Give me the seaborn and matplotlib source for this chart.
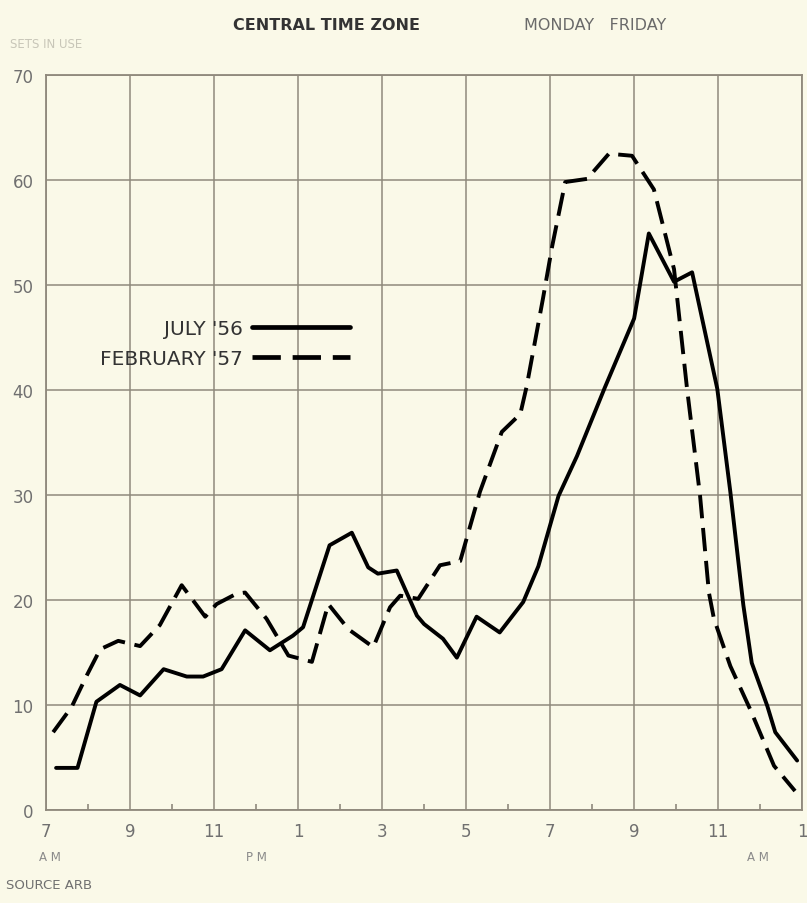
import numpy as np
import matplotlib as mpl
mpl.use('Agg')

import matplotlib.pyplot as plt
import seaborn as sns
import pandas as pd

# hours after midnight (7 = 7 AM, 25 = 1 AM next day), per cent of sets in use
july_hour = [7.24, 7.75, 8.2, 8.76, 9.24, 9.8, 10.35, 10.74, 11.18, 11.74, 12.33,
             12.88, 13.12, 13.75, 14.28, 14.67, 14.9, 15.35, 15.83, 16.0, 16.45,
             16.78, 17.25, 17.8, 18.36, 18.72, 19.2, 19.64, 20.3, 21.0, 21.35,
             21.95, 22.38, 22.98, 23.29, 23.6, 23.8, 24.17, 24.36, 24.88]
july_pct = [4.0, 4.0, 10.3, 11.9, 10.9, 13.4, 12.7, 12.7, 13.4, 17.1, 15.2,
            16.6, 17.4, 25.2, 26.4, 23.1, 22.5, 22.8, 18.5, 17.7, 16.3,
            14.5, 18.4, 16.9, 19.8, 23.2, 29.9, 33.7, 40.2, 46.8, 54.9,
            50.3, 51.2, 40.1, 30.3, 19.5, 14.0, 9.9, 7.4, 4.7]

feb_hour = [7.17, 7.61, 7.97, 8.29, 8.72, 9.24, 9.71, 10.23, 10.79, 11.06, 11.54,
            11.74, 12.25, 12.77, 13.33, 13.72, 14.2, 14.79, 15.19, 15.43, 15.86,
            16.38, 16.86, 17.33, 17.85, 18.29, 18.44, 18.83, 19.05, 19.36, 19.88,
            20.4, 20.95, 21.47, 21.95, 22.26, 22.57, 22.78, 22.9, 23.29, 23.76,
            24.33, 24.83]
feb_pct = [7.4, 9.8, 12.8, 15.3, 16.1, 15.6, 17.6, 21.4, 18.4, 19.6, 20.6,
           20.7, 18.2, 14.7, 14.1, 19.6, 17.2, 15.5, 19.3, 20.4, 20.1,
           23.3, 23.7, 30.3, 36.0, 37.7, 40.3, 48.7, 53.7, 59.8, 60.1,
           62.5, 62.3, 59.1, 51.5, 40.1, 29.9, 20.7, 18.2, 13.7, 9.6,
           4.2, 1.8]

series_names = ["JULY '56", "FEBRUARY '57"]
x_ticks = [7, 9, 11, 13, 15, 17, 19, 21, 23, 25]
x_labels = ["7", "9", "11", "1", "3", "5", "7", "9", "11", "1"]
y_ticks = [0, 10, 20, 30, 40, 50, 60, 70]

paper = "#FAF9E8"
grid_col = "#8f897c"

df = pd.concat([
    pd.DataFrame({"Hour": july_hour, "Pct": july_pct, "Series": series_names[0]}),
    pd.DataFrame({"Hour": feb_hour, "Pct": feb_pct, "Series": series_names[1]}),
])

sns.set_style("white")
plt.rcParams['font.family'] = ['DejaVu Sans']

fig = plt.figure(figsize=(8.07, 9.04), dpi=100, facecolor=paper)
ax = fig.add_axes([0.057, 0.103, 0.937, 0.813])
ax.set_facecolor(paper)

sns.lineplot(data=df, x="Hour", y="Pct", style="Series", hue="Series",
             palette={series_names[0]: "black", series_names[1]: "black"},
             dashes={series_names[0]: "", series_names[1]: (6, 2.5)},
             estimator=None, sort=False, linewidth=2.8, ax=ax, legend=True)

ax.set_xlim(7, 25)
ax.set_ylim(0, 70)
ax.set_xticks(x_ticks)
ax.set_xticklabels(x_labels)
ax.set_xticks(np.arange(8, 25, 2), minor=True)
ax.set_yticks(y_ticks)
ax.grid(True, which='major', color=grid_col, linewidth=1.1)
ax.set_axisbelow(True)
for s in ax.spines.values():
    s.set_color(grid_col)
    s.set_linewidth(1.3)
ax.tick_params(axis='both', which='major', length=0, labelsize=12,
               labelcolor="#707070", pad=9)
ax.tick_params(axis='x', which='minor', direction='in', length=4,
               color=grid_col, width=1.2, bottom=True)
ax.set_xlabel("")
ax.set_ylabel("")

leg = ax.legend(loc='upper left', bbox_to_anchor=(0.047, 0.693), frameon=False,
                markerfirst=False, handlelength=4.9, fontsize=14.5,
                labelspacing=0.55, handletextpad=0.45)
for t in leg.get_texts():
    t.set_color("#333333")
for ln in leg.get_lines():
    ln.set_linewidth(3.4)

# AM / PM markers under the time axis
for hx, lab in [(7.1, "A M"), (12.0, "P M"), (23.95, "A M")]:
    ax.text(hx, -0.055, lab, transform=ax.get_xaxis_transform(),
            ha='center', va='top', fontsize=8.5, color="#8a8a8a")

fig.text(0.405, 0.972, "CENTRAL TIME ZONE", ha='center', va='center',
         fontsize=11.5, fontweight='bold', color="#333333")
fig.text(0.737, 0.972, "MONDAY   FRIDAY", ha='center', va='center',
         fontsize=11.5, color="#6a6a6a")
fig.text(0.012, 0.951, "SETS IN USE", ha='left', va='center',
         fontsize=8.5, color="#c8c6b8")
fig.text(0.008, 0.021, "SOURCE ARB", ha='left', va='center',
         fontsize=9.5, color="#707070")

plt.savefig("out.png", dpi=100, facecolor=paper)
plt.close()
